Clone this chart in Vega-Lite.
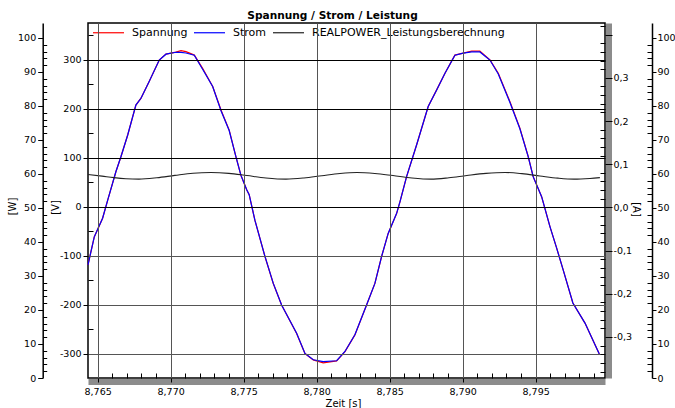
{
"$schema": "https://vega.github.io/schema/vega-lite/v6.json",
"width": 517,
"height": 355,
"autosize": "none",
"padding": {"left": 88, "top": 23, "right": 70, "bottom": 30},
"background": "white",
"title": {"text": "Spannung / Strom / Leistung", "font": "DejaVu Sans", "fontSize": 10.6, "fontWeight": "bold", "color": "black", "anchor": "middle", "dx": -14, "offset": -6},
"config": {
  "view": {"stroke": "black", "strokeWidth": 1.5},
  "font": "DejaVu Sans",
  "axis": {"labelFont": "DejaVu Sans", "labelFontSize": 9.5, "labelColor": "black", "titleFont": "DejaVu Sans", "titleFontSize": 10, "titleFontWeight": "normal", "titleColor": "black", "tickColor": "black", "domainColor": "black", "labelFlush": false, "labelOverlap": false, "tickWidth": 1}
},
"datasets": {
  "ui": [
    {"t": 8.76434, "U": -118, "I": -0.1328},
    {"t": 8.76477, "U": -61, "I": -0.0682},
    {"t": 8.76534, "U": -23, "I": -0.0251},
    {"t": 8.76569, "U": 14, "I": 0.0169},
    {"t": 8.76625, "U": 72, "I": 0.0826},
    {"t": 8.76660, "U": 103, "I": 0.1178},
    {"t": 8.76706, "U": 147, "I": 0.1677},
    {"t": 8.76762, "U": 208, "I": 0.2369},
    {"t": 8.76797, "U": 222, "I": 0.2527},
    {"t": 8.76853, "U": 256, "I": 0.2913},
    {"t": 8.76922, "U": 300, "I": 0.3412},
    {"t": 8.76968, "U": 312, "I": 0.3548},
    {"t": 8.77036, "U": 316, "I": 0.3593},
    {"t": 8.77071, "U": 319, "I": 0.3590},
    {"t": 8.77105, "U": 317, "I": 0.3575},
    {"t": 8.77162, "U": 310, "I": 0.3525},
    {"t": 8.77219, "U": 283, "I": 0.3200},
    {"t": 8.77288, "U": 246, "I": 0.2800},
    {"t": 8.77345, "U": 198, "I": 0.2240},
    {"t": 8.77401, "U": 157, "I": 0.1780},
    {"t": 8.77447, "U": 103, "I": 0.1178},
    {"t": 8.77481, "U": 65, "I": 0.0747},
    {"t": 8.77521, "U": 35, "I": 0.0407},
    {"t": 8.77538, "U": 25, "I": 0.0294},
    {"t": 8.77577, "U": -27, "I": -0.0296},
    {"t": 8.77646, "U": -101, "I": -0.1135},
    {"t": 8.77703, "U": -156, "I": -0.1759},
    {"t": 8.77760, "U": -200, "I": -0.2258},
    {"t": 8.77863, "U": -258, "I": -0.2916},
    {"t": 8.77920, "U": -299, "I": -0.3381},
    {"t": 8.77977, "U": -312, "I": -0.3528},
    {"t": 8.78045, "U": -318, "I": -0.3570},
    {"t": 8.78137, "U": -314, "I": -0.3551},
    {"t": 8.78194, "U": -295, "I": -0.3335},
    {"t": 8.78262, "U": -261, "I": -0.2950},
    {"t": 8.78342, "U": -200, "I": -0.2258},
    {"t": 8.78399, "U": -156, "I": -0.1759},
    {"t": 8.78445, "U": -101, "I": -0.1135},
    {"t": 8.78490, "U": -54, "I": -0.0602},
    {"t": 8.78548, "U": -13, "I": -0.0137},
    {"t": 8.78571, "U": 11, "I": 0.0135},
    {"t": 8.78616, "U": 62, "I": 0.0713},
    {"t": 8.78685, "U": 127, "I": 0.1450},
    {"t": 8.78764, "U": 205, "I": 0.2335},
    {"t": 8.78822, "U": 239, "I": 0.2720},
    {"t": 8.78879, "U": 273, "I": 0.3106},
    {"t": 8.78947, "U": 310, "I": 0.3525},
    {"t": 8.79004, "U": 314, "I": 0.3571},
    {"t": 8.79062, "U": 318, "I": 0.3600},
    {"t": 8.79118, "U": 318, "I": 0.3600},
    {"t": 8.79187, "U": 300, "I": 0.3412},
    {"t": 8.79244, "U": 273, "I": 0.3090},
    {"t": 8.79324, "U": 215, "I": 0.2430},
    {"t": 8.79392, "U": 161, "I": 0.1820},
    {"t": 8.79449, "U": 103, "I": 0.1178},
    {"t": 8.79483, "U": 62, "I": 0.0713},
    {"t": 8.79541, "U": 21, "I": 0.0248},
    {"t": 8.79598, "U": -40, "I": -0.0444},
    {"t": 8.79644, "U": -84, "I": -0.0943},
    {"t": 8.79689, "U": -129, "I": -0.1453},
    {"t": 8.79755, "U": -196, "I": -0.2213},
    {"t": 8.79838, "U": -237, "I": -0.2678},
    {"t": 8.79936, "U": -300, "I": -0.3392}
  ],
  "p": [
    {"t": 8.76434, "P": 59.85},
    {"t": 8.76530, "P": 59.36},
    {"t": 8.76612, "P": 58.92},
    {"t": 8.76694, "P": 58.60},
    {"t": 8.76783, "P": 58.48},
    {"t": 8.76906, "P": 58.89},
    {"t": 8.77029, "P": 59.59},
    {"t": 8.77153, "P": 60.23},
    {"t": 8.77276, "P": 60.44},
    {"t": 8.77399, "P": 60.18},
    {"t": 8.77523, "P": 59.53},
    {"t": 8.77653, "P": 58.83},
    {"t": 8.77790, "P": 58.48},
    {"t": 8.77913, "P": 58.83},
    {"t": 8.78036, "P": 59.50},
    {"t": 8.78160, "P": 60.15},
    {"t": 8.78276, "P": 60.44},
    {"t": 8.78399, "P": 60.15},
    {"t": 8.78523, "P": 59.53},
    {"t": 8.78653, "P": 58.83},
    {"t": 8.78783, "P": 58.48},
    {"t": 8.78906, "P": 58.89},
    {"t": 8.79029, "P": 59.56},
    {"t": 8.79160, "P": 60.18},
    {"t": 8.79290, "P": 60.44},
    {"t": 8.79406, "P": 60.09},
    {"t": 8.79529, "P": 59.42},
    {"t": 8.79653, "P": 58.77},
    {"t": 8.79762, "P": 58.48},
    {"t": 8.79872, "P": 58.68},
    {"t": 8.79940, "P": 58.92}
  ]
},
"resolve": {"scale": {"y": "independent"}, "axis": {"x": "independent", "y": "independent"}},
"layer": [
  {
    "data": {"name": "p"},
    "mark": {"type": "line", "opacity": 0},
    "encoding": {
      "x": {"field": "t", "type": "quantitative", "scale": {"domain": [8.76434, 8.79975], "nice": false, "zero": false},
            "axis": {"orient": "bottom", "offset": 3.5, "domainColor": "#8c8c8c", "domainWidth": 6, "ticks": false, "labels": false, "grid": false, "title": null, "zindex": 0}},
      "y": {"field": "P", "type": "quantitative", "scale": {"domain": [0, 104.4], "nice": false, "zero": false},
            "axis": {"orient": "right", "offset": 3.5, "domainColor": "#8c8c8c", "domainWidth": 6, "ticks": false, "labels": false, "grid": false, "title": null, "zindex": 0}}
    }
  },
  {
    "data": {"name": "ui"},
    "mark": {"type": "line", "strokeWidth": 1.2},
    "encoding": {
      "x": {"field": "t", "type": "quantitative", "scale": {"domain": [8.76434, 8.79975], "nice": false, "zero": false},
            "axis": {
              "orient": "bottom",
              "values": [8.765,8.766,8.767,8.768,8.769,8.770,8.771,8.772,8.773,8.774,8.775,8.776,8.777,8.778,8.779,8.780,8.781,8.782,8.783,8.784,8.785,8.786,8.787,8.788,8.789,8.790,8.791,8.792,8.793,8.794,8.795,8.796,8.797,8.798,8.799],
              "labelExpr": "abs(datum.value*200 - round(datum.value*200)) < 0.01 ? replace(format(datum.value, '.3f'), '.', ',') : ''",
              "tickSize": {"condition": {"test": "abs(datum.value*200 - round(datum.value*200)) < 0.01", "value": 4}, "value": -5},
              "grid": true,
              "gridColor": "#555555",
              "gridOpacity": {"condition": {"test": "abs(datum.value*200 - round(datum.value*200)) < 0.01", "value": 1}, "value": 0},
              "domain": false,
              "labelPadding": 4,
              "title": "Zeit [s]",
              "titleX": 255,
              "titleY": 25,
              "titleBaseline": "middle",
              "zindex": 1
            }},
      "y": {"field": "U", "type": "quantitative", "scale": {"domain": [-349, 375.5], "nice": false, "zero": false},
            "axis": {
              "orient": "left",
              "values": [-300,-250,-200,-150,-100,-50,0,50,100,150,200,250,300,350],
              "labelExpr": "datum.value % 100 === 0 ? '' + datum.value : ''",
              "tickSize": {"condition": {"test": "datum.value % 100 === 0", "value": 5}, "value": -5},
              "grid": true,
              "gridColor": {"condition": {"test": "datum.value >= 0", "value": "black"}, "value": "#555555"},
              "gridOpacity": {"condition": {"test": "datum.value % 100 === 0", "value": 1}, "value": 0},
              "domain": false,
              "labelPadding": 2,
              "title": "[V]",
              "titleX": -33,
              "titleY": 184,
              "titleAngle": -90,
              "titleBaseline": "middle",
              "titleAlign": "center",
              "zindex": 1
            }},
      "color": {"datum": "Spannung",
                "scale": {"domain": ["Spannung", "Strom", "REALPOWER_Leistungsberechnung"], "range": ["#ff0000", "#0000ff", "#222222"]},
                "legend": {"orient": "none", "legendX": 4, "legendY": -7, "direction": "horizontal", "title": null, "symbolType": "stroke", "symbolSize": 961, "symbolStrokeWidth": 1.2, "labelFontSize": 11, "labelFont": "DejaVu Sans", "labelColor": "black", "labelOffset": 7, "labelLimit": 400, "columnPadding": 3, "padding": 0}}
    }
  },
  {
    "data": {"name": "ui"},
    "mark": {"type": "line", "strokeWidth": 1.2},
    "encoding": {
      "x": {"field": "t", "type": "quantitative", "axis": null},
      "y": {"field": "I", "type": "quantitative", "scale": {"domain": [-0.395, 0.427], "nice": false, "zero": false},
            "axis": {
              "orient": "right",
              "values": [-0.38,-0.36,-0.34,-0.32,-0.3,-0.28,-0.26,-0.24,-0.22,-0.2,-0.18,-0.16,-0.14,-0.12,-0.1,-0.08,-0.06,-0.04,-0.02,0,0.02,0.04,0.06,0.08,0.1,0.12,0.14,0.16,0.18,0.2,0.22,0.24,0.26,0.28,0.3,0.32,0.34,0.36,0.38,0.4,0.42],
              "labelExpr": "abs(datum.value*10 - round(datum.value*10)) < 0.001 && abs(datum.value) < 0.35 ? (datum.value < -0.001 ? '-' : '') + replace(format(abs(datum.value), '.1f'), '.', ',') : ''",
              "tickSize": {"condition": {"test": "abs(datum.value*10 - round(datum.value*10)) < 0.001", "value": 7}, "value": -5},
              "grid": false,
              "domain": false,
              "labelPadding": 1,
              "title": "[A]",
              "titleX": 30,
              "titleY": 186,
              "titleAngle": 90,
              "titleBaseline": "middle",
              "titleAlign": "center",
              "zindex": 1
            }},
      "color": {"datum": "Strom"}
    }
  },
  {
    "data": {"name": "p"},
    "mark": {"type": "line", "strokeWidth": 1.1, "interpolate": "monotone"},
    "encoding": {
      "x": {"field": "t", "type": "quantitative", "axis": null},
      "y": {"field": "P", "type": "quantitative", "scale": {"domain": [0, 104.4], "nice": false, "zero": false},
            "axis": {
              "orient": "left",
              "offset": 45.3,
              "values": [0,2,4,6,8,10,12,14,16,18,20,22,24,26,28,30,32,34,36,38,40,42,44,46,48,50,52,54,56,58,60,62,64,66,68,70,72,74,76,78,80,82,84,86,88,90,92,94,96,98,100],
              "labelExpr": "datum.value % 10 === 0 ? '' + datum.value : ''",
              "tickSize": {"condition": {"test": "datum.value % 10 === 0", "value": 5}, "value": -4},
              "grid": false,
              "domain": true,
              "domainWidth": 1.5,
              "labelPadding": 2,
              "title": "[W]",
              "titleX": -30,
              "titleY": 183,
              "titleAngle": -90,
              "titleBaseline": "middle",
              "titleAlign": "center",
              "zindex": 1
            }},
      "color": {"datum": "REALPOWER_Leistungsberechnung"}
    }
  },
  {
    "data": {"name": "p"},
    "mark": {"type": "line", "opacity": 0},
    "encoding": {
      "x": {"field": "t", "type": "quantitative", "axis": null},
      "y": {"field": "P", "type": "quantitative", "scale": {"domain": [0, 104.4], "nice": false, "zero": false},
            "axis": {
              "orient": "right",
              "offset": 47,
              "values": [0,2,4,6,8,10,12,14,16,18,20,22,24,26,28,30,32,34,36,38,40,42,44,46,48,50,52,54,56,58,60,62,64,66,68,70,72,74,76,78,80,82,84,86,88,90,92,94,96,98,100],
              "labelExpr": "datum.value % 10 === 0 ? '' + datum.value : ''",
              "tickSize": {"condition": {"test": "datum.value % 10 === 0", "value": 4}, "value": -5},
              "grid": false,
              "domain": true,
              "domainWidth": 1.5,
              "labelPadding": 1,
              "title": null,
              "zindex": 1
            }}
    }
  }
]
}
